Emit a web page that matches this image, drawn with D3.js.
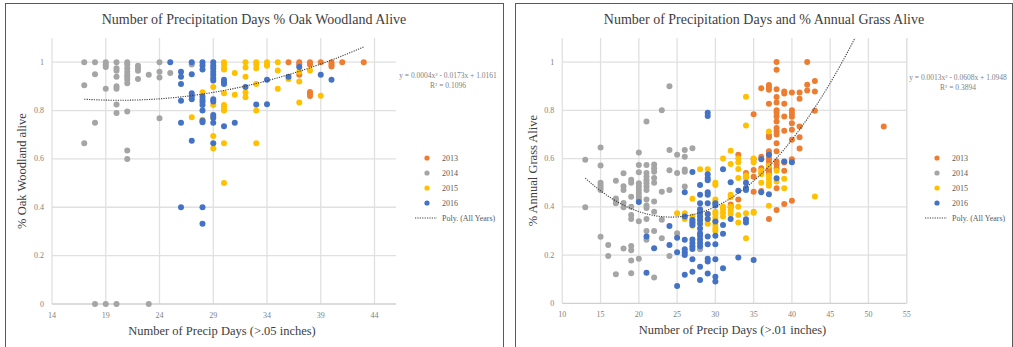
<!DOCTYPE html>
<html>
<head>
<meta charset="utf-8">
<script src="https://cdn.jsdelivr.net/npm/d3@7"></script>
<style>
  body { margin: 0; background: #fff; }
  text { font-family: "Liberation Serif", "DejaVu Serif", serif; }
</style>
</head>
<body>
<svg id="chart" width="1013" height="347"></svg>
<script>
// series labels / colours
const years = ["2013", "2014", "2015", "2016"];
const colors = ["#ED7D31", "#A5A5A5", "#FFC000", "#4472C4"];
const yTicks = [0, 0.2, 0.4, 0.6, 0.8, 1];
const oakTicks = [14, 19, 24, 29, 34, 39, 44];
const grassTicks = [10, 15, 20, 25, 30, 35, 40, 45, 50, 55];

// left chart: [precip days, fraction alive]
const oak2013 = [[36,1],[37,1],[37,0.99],[37,0.948],[38,1],[38,0.99],[38,0.877],[38,0.87],[38,0.86],[39,1],[40,1],[40,0.99],[40,0.982],[41,1],[43,1]];
const oak2014 = [[17,1],[17,0.905],[17,0.665],[18,1],[18,0.95],[18,0.75],[18,0],[19,1],[19,0.99],[19,0.98],[19,0.89],[19,0],
  [20,1],[20,0.975],[20,0.965],[20,0.94],[20,0.9],[20,0.89],[20,0.825],[20,0.79],[20,0],
  [21,1],[21,0.99],[21,0.975],[21,0.96],[21,0.948],[21,0.94],[21,0.928],[21,0.913],[21,0.796],[21,0.635],[21,0.6],
  [22,0.985],[22,0.975],[22,0.965],[22,0.93],[23,0.948],[23,0],[24,1],[24,0.96],[24,0.937],[24,0.768],[25,0.955],[27,0.99]];
const oak2015 = [[27,0.772],[28,0.876],[28,0.762],[29,0.897],[29,0.823],[29,0.77],[29,0.695],[29,0.643],
  [30,1],[30,0.99],[30,0.975],[30,0.97],[30,0.872],[30,0.823],[30,0.812],[30,0.8],[30,0.665],[30,0.5],
  [31,0.955],[31,0.865],[32,1],[32,0.978],[32,0.94],[32,0.875],[32,0.855],[33,1],[33,0.99],[33,0.975],[33,0.91],[33,0.8],[33,0.665],
  [34,1],[34,0.99],[34,0.985],[35,1],[35,0.966],[35,0.89],[36,0.93],[37,0.96],[37,0.92],[37,0.833],[38,0.966],[39,0.861]];
const oak2016 = [[25,1],[26,0.96],[26,0.94],[26,0.91],[26,0.84],[26,0.75],[26,0.4],[27,1],[27,0.95],[27,0.872],[27,0.858],[27,0.847],[27,0.675],
  [28,1],[28,0.986],[28,0.97],[28,0.858],[28,0.845],[28,0.835],[28,0.823],[28,0.8],[28,0.758],[28,0.752],[28,0.4],[28,0.332],
  [29,1],[29,0.986],[29,0.975],[29,0.96],[29,0.948],[29,0.935],[29,0.924],[29,0.847],[29,0.837],[29,0.782],[29,0.77],[29,0.75],[29,0.665],
  [30,0.927],[30,0.916],[30,0.91],[30,0.735],[31,0.75],[32,0.897],[33,0.825],[34,0.927],[34,0.826],[36,0.94],[37,0.98],[39,0.948],[40,0.927]];
// drawn poly trendline: [c0, c1, c2], x range
const oakTrend = [1.0177, -0.0173, 0.000427];
const oakTrendRange = [17, 43];

// right chart
const grass2013 = [[32,0.41],[32,0.397],[33,0.616],[33,0.43],[34,0.54],[34,0.525],[35,0.784],[35,0.597],[35,0.553],[35,0.525],[35,0.463],
  [36,0.892],[36,0.608],[36,0.56],[36,0.54],[36,0.466],
  [37,0.905],[37,0.895],[37,0.885],[37,0.827],[37,0.697],[37,0.688],[37,0.63],[37,0.617],[37,0.6],[37,0.59],[37,0.575],[37,0.56],[37,0.55],[37,0.54],[37,0.35],
  [38,1],[38,0.968],[38,0.888],[38,0.855],[38,0.833],[38,0.8],[38,0.79],[38,0.775],[38,0.754],[38,0.727],[38,0.713],[38,0.7],[38,0.664],[38,0.63],[38,0.588],[38,0.575],[38,0.56],[38,0.477],[38,0.387],
  [39,0.878],[39,0.87],[39,0.827],[39,0.775],[39,0.715],[39,0.584],[39,0.55],[39,0.412],
  [40,0.874],[40,0.8],[40,0.787],[40,0.773],[40,0.747],[40,0.72],[40,0.678],[40,0.597],[40,0.425],
  [41,0.874],[41,0.848],[41,0.733],[41,0.689],[41,0.642],[42,1],[42,0.906],[42,0.882],[43,0.922],[43,0.878],[43,0.798],[52,0.733]];
const grass2014 = [[13,0.595],[13,0.398],[15,0.646],[15,0.571],[15,0.5],[15,0.49],[15,0.48],[15,0.47],[15,0.276],[16,0.242],[16,0.196],
  [17,0.508],[17,0.435],[17,0.425],[17,0.415],[17,0.12],[18,0.539],[18,0.485],[18,0.47],[18,0.416],[18,0.398],[18,0.227],
  [19,0.512],[19,0.5],[19,0.442],[19,0.4],[19,0.366],[19,0.35],[19,0.238],[19,0.22],[19,0.177],[19,0.125],
  [20,0.625],[20,0.573],[20,0.543],[20,0.498],[20,0.484],[20,0.47],[20,0.456],[20,0.442],[20,0.431],[20,0.34],[20,0.185],
  [21,0.754],[21,0.573],[21,0.54],[21,0.525],[21,0.51],[21,0.498],[21,0.484],[21,0.47],[21,0.43],[21,0.405],[21,0.395],[21,0.35],[21,0.3],[21,0.264],
  [22,0.575],[22,0.56],[22,0.545],[22,0.52],[22,0.5],[22,0.422],[22,0.38],[22,0.3],[22,0.107],
  [23,0.8],[23,0.463],[23,0.346],[23,0.27],[24,0.9],[24,0.636],[24,0.552],[24,0.47],[24,0.196],
  [25,0.616],[25,0.54],[25,0.29],[26,0.636],[26,0.608],[26,0.555],[26,0.545],[26,0.484],[27,0.643],[28,0.224]];
const grass2015 = [[25,0.373],[26,0.373],[26,0.36],[26,0.35],[27,0.433],[27,0.36],[27,0.347],[27,0.335],[27,0.322],
  [28,0.556],[28,0.38],[28,0.365],[28,0.345],[29,0.556],[29,0.37],[29,0.35],[29,0.33],
  [30,0.5],[30,0.49],[30,0.43],[30,0.42],[30,0.38],[30,0.37],[30,0.355],[30,0.34],[30,0.325],[30,0.31],[30,0.3],
  [31,0.6],[31,0.4],[31,0.39],[31,0.375],[31,0.36],[32,0.632],[32,0.578],[32,0.45],[32,0.44],[32,0.4],[32,0.385],[32,0.37],
  [33,0.6],[33,0.585],[33,0.557],[33,0.52],[33,0.4],[33,0.366],[33,0.335],[34,0.856],[34,0.737],[34,0.53],[34,0.52],[34,0.373],[34,0.27],
  [35,0.6],[35,0.585],[35,0.38],[35,0.375],[36,0.55],[36,0.535],[36,0.5],
  [37,0.712],[37,0.57],[37,0.53],[37,0.515],[37,0.5],[37,0.487],[37,0.404],[38,0.55],[38,0.505],[39,0.516],[39,0.477],[43,0.443]];
const grass2016 = [[20,0.42],[21,0.277],[21,0.127],[22,0.228],[24,0.32],[24,0.242],[25,0.272],[25,0.212],[25,0.072],
  [26,0.46],[26,0.36],[26,0.263],[26,0.224],[26,0.212],[26,0.2],[26,0.118],
  [27,0.544],[27,0.345],[27,0.335],[27,0.325],[27,0.265],[27,0.25],[27,0.237],[27,0.225],[27,0.183],[27,0.131],
  [28,0.49],[28,0.45],[28,0.415],[28,0.39],[28,0.375],[28,0.36],[28,0.345],[28,0.33],[28,0.31],[28,0.29],[28,0.28],[28,0.265],[28,0.25],[28,0.237],[28,0.152],[28,0.097],
  [29,0.79],[29,0.777],[29,0.535],[29,0.52],[29,0.51],[29,0.46],[29,0.45],[29,0.415],[29,0.37],[29,0.35],[29,0.277],[29,0.245],[29,0.185],[29,0.173],[29,0.124],
  [30,0.415],[30,0.405],[30,0.339],[30,0.28],[30,0.245],[30,0.183],[30,0.11],[30,0.09],
  [31,0.556],[31,0.325],[31,0.288],[31,0.145],[32,0.502],[32,0.35],[33,0.467],[33,0.19],
  [34,0.5],[34,0.478],[34,0.47],[34,0.348],[34,0.335],[35,0.18],[36,0.597],[36,0.46],[37,0.616],[37,0.452],[38,0.519],[39,0.588],[40,0.585]];
const grassTrend = [1.1112, -0.06227, 0.001286];
const grassTrendRange = [13, 52];

const svg = d3.select("#chart");

function drawChart(cfg) {
  const x = d3.scaleLinear().domain(cfg.xDomain).range([cfg.left, cfg.right]);
  const y = d3.scaleLinear().domain([0, 1.1]).range([cfg.bottom, cfg.top]);
  const g = svg.append("g");

  // panel border
  g.append("rect")
    .attr("x", cfg.box[0] + 0.5).attr("y", 3.5)
    .attr("width", cfg.box[1] - cfg.box[0]).attr("height", 360)
    .attr("fill", "none").attr("stroke", "#595959").attr("stroke-width", 1);

  // gridlines
  g.selectAll(".hg").data(yTicks.slice(1)).join("line")
    .attr("x1", cfg.left).attr("x2", cfg.right)
    .attr("y1", d => y(d)).attr("y2", d => y(d))
    .attr("stroke", "#e0e0e0").attr("stroke-width", 1.3);
  g.selectAll(".vg").data(cfg.xTicks).join("line")
    .attr("x1", d => x(d)).attr("x2", d => x(d))
    .attr("y1", cfg.top).attr("y2", cfg.bottom)
    .attr("stroke", "#e0e0e0").attr("stroke-width", 1.3);
  g.append("line")
    .attr("x1", cfg.left).attr("x2", cfg.right)
    .attr("y1", cfg.bottom).attr("y2", cfg.bottom)
    .attr("stroke", "#d0d0d0").attr("stroke-width", 1.3);
  if (cfg.rightEdge) {
    g.append("line").attr("x1", cfg.right).attr("x2", cfg.right)
      .attr("y1", cfg.top).attr("y2", cfg.bottom)
      .attr("stroke", "#e0e0e0").attr("stroke-width", 1.3);
  }

  // tick labels
  g.selectAll(".yl").data(yTicks).join("text")
    .attr("x", cfg.left - 8).attr("y", d => y(d) + 2.5)
    .attr("text-anchor", "end").attr("font-size", 8).attr("fill", "#7f7f7f")
    .text(d => d);
  g.selectAll(".xl").data(cfg.xTicks).join("text")
    .attr("x", d => x(d)).attr("y", cfg.bottom + 14)
    .attr("text-anchor", "middle").attr("font-size", 8).attr("fill", "#7f7f7f")
    .text(d => d);

  // points
  cfg.series.forEach((s, i) => {
    g.append("g").selectAll("circle").data(s).join("circle")
      .attr("cx", d => x(d[0])).attr("cy", d => y(d[1]))
      .attr("r", 3).attr("fill", colors[i]);
  });

  // trendline over all years
  const c = cfg.trend;
  const xs = d3.range(cfg.trendRange[0], cfg.trendRange[1] + 0.01, 0.25);
  g.append("clipPath").attr("id", cfg.id).append("rect")
    .attr("x", cfg.left).attr("y", cfg.top).attr("width", cfg.right - cfg.left).attr("height", cfg.bottom - cfg.top);
  g.append("path")
    .datum(xs)
    .attr("clip-path", "url(#" + cfg.id + ")")
    .attr("d", d3.line().x(d => x(d)).y(d => y(c[0] + c[1]*d + c[2]*d*d)))
    .attr("fill", "none").attr("stroke", "#404040").attr("stroke-width", 1.1)
    .attr("stroke-dasharray", "1.2,1.2");

  // equation
  g.append("text").attr("x", cfg.eqX).attr("y", cfg.eqY).attr("text-anchor", "middle")
    .attr("font-size", 7.5).attr("fill", "#7f7f7f").text(cfg.eq);
  g.append("text").attr("x", cfg.eqX).attr("y", cfg.eqY + 9.5).attr("text-anchor", "middle")
    .attr("font-size", 7.5).attr("fill", "#7f7f7f").text(cfg.r2);

  // titles
  g.append("text").attr("x", cfg.titleX).attr("y", 24).attr("text-anchor", "middle")
    .attr("font-size", 14).attr("fill", "#404040").text(cfg.title);
  g.append("text").attr("x", (cfg.left + cfg.right) / 2 - 2).attr("y", cfg.bottom + 31)
    .attr("text-anchor", "middle").attr("font-size", 12.5).attr("fill", "#404040").text(cfg.xTitle);
  g.append("text")
    .attr("transform", "translate(" + cfg.yTitleX + "," + (cfg.top + cfg.bottom) / 2 + ") rotate(-90)")
    .attr("text-anchor", "middle").attr("font-size", 12.5).attr("fill", "#404040").text(cfg.yTitle);

  // legend
  const lg = g.append("g").attr("transform", "translate(" + cfg.legX + ",158)");
  years.forEach((yr, i) => {
    lg.append("circle").attr("cx", 0).attr("cy", i * 15).attr("r", 2.6).attr("fill", colors[i]);
    lg.append("text").attr("x", 15).attr("y", i * 15 + 2.8).attr("font-size", 8)
      .attr("fill", "#595959").text(yr);
  });
  lg.append("line").attr("x1", -12).attr("x2", 10).attr("y1", 60).attr("y2", 60)
    .attr("stroke", "#404040").attr("stroke-width", 1.1).attr("stroke-dasharray", "1.2,1.2");
  lg.append("text").attr("x", 15).attr("y", 62.8).attr("font-size", 8)
    .attr("fill", "#595959").text("Poly. (All Years)");
}

drawChart({
  id: "clipL", box: [5, 503],
  xDomain: [14, 46], xTicks: oakTicks,
  left: 52, right: 396, top: 38, bottom: 304, rightEdge: false,
  series: [oak2013, oak2014, oak2015, oak2016],
  trend: oakTrend, trendRange: oakTrendRange,
  title: "Number of Precipitation Days % Oak Woodland Alive", titleX: 254,
  xTitle: "Number of Precip Days (>.05 inches)",
  yTitle: "% Oak Woodland alive", yTitleX: 26,
  eq: "y = 0.0004x\u00b2 - 0.0173x + 1.0161", r2: "R\u00b2 = 0.1096", eqX: 448, eqY: 78,
  legX: 427
});

drawChart({
  id: "clipR", box: [515, 1012],
  xDomain: [10, 55], xTicks: grassTicks,
  left: 562.3, right: 906.7, top: 38, bottom: 303.3, rightEdge: true,
  series: [grass2013, grass2014, grass2015, grass2016],
  trend: grassTrend, trendRange: grassTrendRange,
  title: "Number of Precipitation Days and % Annual Grass Alive", titleX: 764,
  xTitle: "Number of Precip Days (>.01 inches)",
  yTitle: "% Annual Grass Alive", yTitleX: 537,
  eq: "y = 0.0013x\u00b2 - 0.0608x + 1.0948", r2: "R\u00b2 = 0.3894", eqX: 958, eqY: 80,
  legX: 937
});
</script>
</body>
</html>
